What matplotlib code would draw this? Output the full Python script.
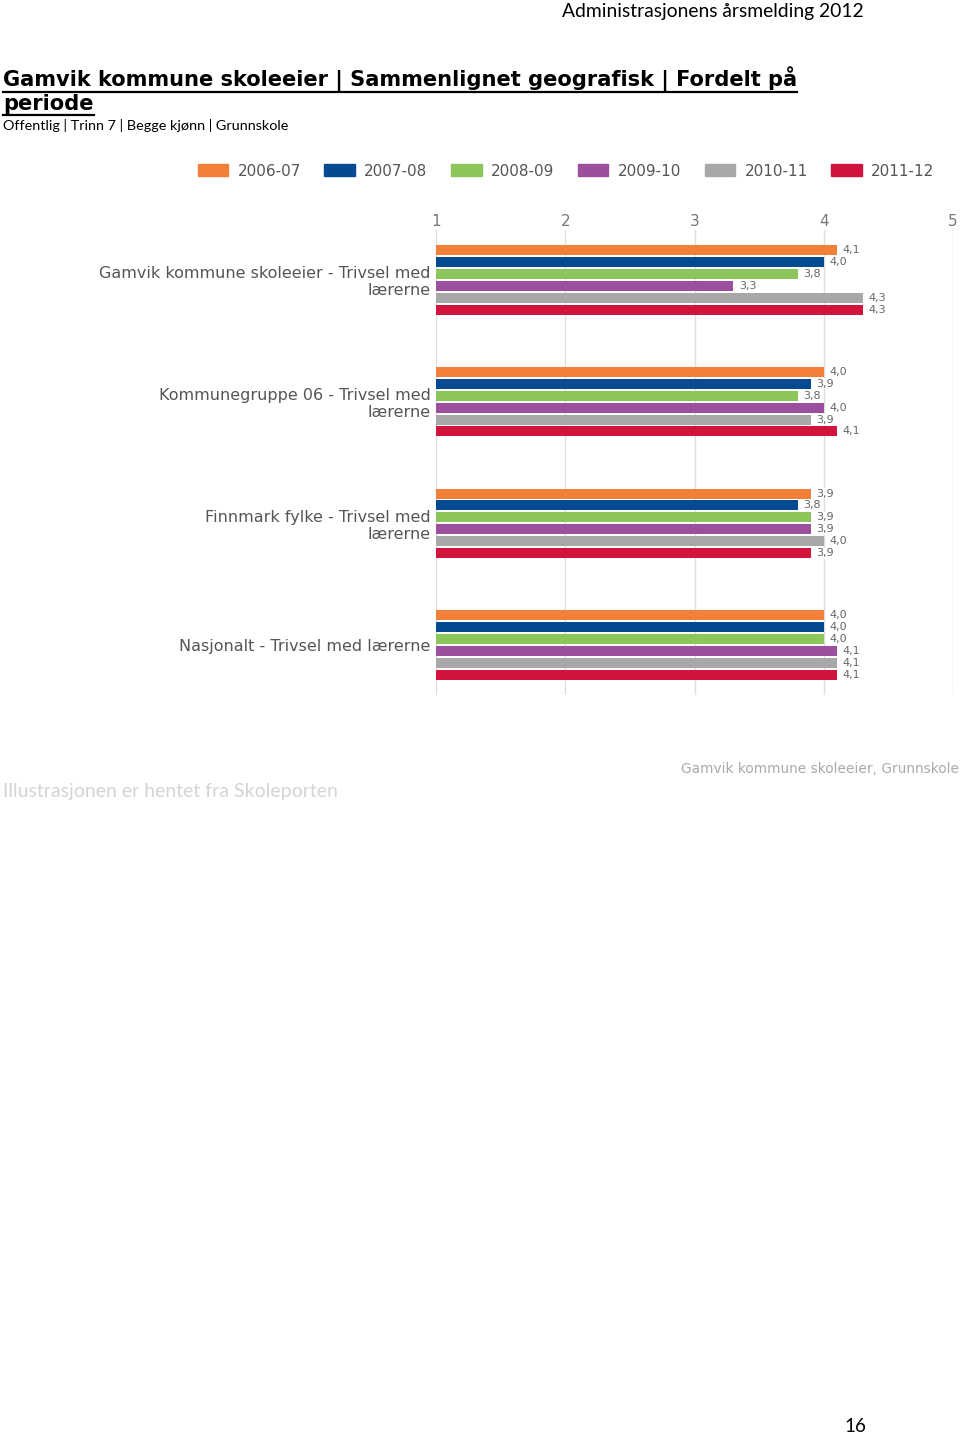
import matplotlib.pyplot as plt
from matplotlib.patches import Patch

# data
kategorier = ["Gamvik kommune skoleeier - Trivsel med\nlærerne",
              "Kommunegruppe 06 - Trivsel med\nlærerne",
              "Finnmark fylke - Trivsel med\nlærerne",
              "Nasjonalt - Trivsel med lærerne"]
perioder = ["2006-07", "2007-08", "2008-09", "2009-10", "2010-11", "2011-12"]
farger = ["#f28038", "#034a91", "#8cc65a", "#9b4f9d", "#a8a8a8", "#d2133e"]

v_2006 = [4.1, 4.0, 3.9, 4.0]
v_2007 = [4.0, 3.9, 3.8, 4.0]
v_2008 = [3.8, 3.8, 3.9, 4.0]
v_2009 = [3.3, 4.0, 3.9, 4.1]
v_2010 = [4.3, 3.9, 4.0, 4.1]
v_2011 = [4.3, 4.1, 3.9, 4.1]
serier = [v_2006, v_2007, v_2008, v_2009, v_2010, v_2011]

W, H = 960, 1435
fig = plt.figure(figsize=(W / 100, H / 100), dpi=100)

# axes placed in pixel terms of the page
ax = fig.add_axes([436 / W, 1 - 695 / H, 517 / W, 465 / H])

pitch = 0.098
hoyde = 0.082
for j, (navn, verdier) in enumerate(zip(perioder, serier)):
    ys = [i + (j - 2.5) * pitch for i in range(len(kategorier))]
    ax.barh(ys, [v - 1 for v in verdier], left=1, height=hoyde,
            color=farger[j], label=navn, zorder=3)
    for y, v in zip(ys, verdier):
        ax.annotate(f"{v:.1f}".replace(".", ","), (v, y), xytext=(4, 0),
                    textcoords="offset points", va="center", ha="left",
                    fontsize=8, color="#666666", zorder=4,
                    bbox=dict(boxstyle="square,pad=0.05", fc="white", ec="none"))

ax.set_xlim(1, 5)
ax.set_ylim(3.41, -0.41)
ax.set_xticks([1, 2, 3, 4, 5])
ax.xaxis.tick_top()
ax.tick_params(axis="x", length=0, pad=1, labelsize=11, labelcolor="#777777")
ax.set_yticks(range(len(kategorier)))
ax.set_yticklabels(kategorier, fontsize=11.5, color="#555555", ha="right",
                   linespacing=1.15)
ax.tick_params(axis="y", length=0, pad=4)
ax.grid(axis="x", color="#dddddd", linewidth=1, zorder=0)
for s in ax.spines.values():
    s.set_visible(False)

# legend
handles = [Patch(color=c) for c in farger]
fig.legend(handles, perioder, loc="center", bbox_to_anchor=(566 / W, 1 - 171 / H),
           ncol=6, frameon=False, fontsize=11, handlelength=2.0,
           handleheight=0.8, columnspacing=1.55, handletextpad=0.6,
           labelcolor="#555555")

# page texts
fig.text(562 / W, 1 - 11 / H, "Administrasjonens årsmelding 2012", family="Lato",
         fontsize=13.9, va="center", ha="left", color="black")
t1 = fig.text(3 / W, 1 - 79 / H, "Gamvik kommune skoleeier | Sammenlignet geografisk | Fordelt på",
              fontsize=15.1, fontweight="bold", va="center", ha="left")
t2 = fig.text(3 / W, 1 - 104 / H, "periode", fontsize=15.1, fontweight="bold",
              va="center", ha="left")
fig.text(3 / W, 1 - 126 / H, "Offentlig | Trinn 7 | Begge kjønn | Grunnskole",
         family="Lato", fontsize=10.4, va="center", ha="left")

# underline the title lines
r = fig.canvas.get_renderer()
for t in (t1, t2):
    bb = t.get_window_extent(renderer=r)
    y = bb.y0 - 1
    fig.add_artist(plt.Line2D([bb.x0 / W, bb.x1 / W], [y / H, y / H],
                              color="black", linewidth=1.6))

fig.text(3 / W, 1 - 792 / H, "Illustrasjonen er hentet fra Skoleporten",
         family="Lato", fontsize=14, color="#d4d4d4", va="center", ha="left")
fig.text(959 / W, 1 - 769 / H, "Gamvik kommune skoleeier, Grunnskole",
         fontsize=9.9, color="#aaaaaa", va="center", ha="right")
fig.text(855 / W, 1 - 1427 / H, "16", family="Lato", fontsize=13.5,
         va="center", ha="center")

fig.savefig("out.png", dpi=100)
